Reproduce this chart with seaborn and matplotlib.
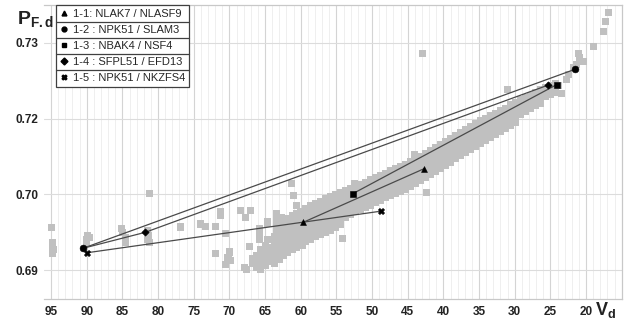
import matplotlib
matplotlib.use("Agg")
import matplotlib.pyplot as plt
from matplotlib.lines import Line2D
import seaborn as sns
import pandas as pd

# glass map (gray squares)
glass_vd = [
    # left outliers
    95.0, 94.8, 94.8, 94.7, 94.8,
    89.9, 90.0, 90.1, 89.6,
    85.1, 85.0, 84.6, 84.6,
    81.5, 81.3, 81.5, 81.2, 81.2,
    76.8, 74.1, 73.4, 71.9, 71.2, 71.2, 70.6,
    71.9, 70.2, 69.8, 70.5, 70.0,
    68.4, 67.0, 67.7, 67.2, 67.9, 67.6,
    61.3, 61.0, 64.6, 63.4, 62.7,
    # band
    66.8, 66.8,
    66.2, 66.2, 66.2,
    65.6, 65.6, 65.6, 65.6,
    65.8, 65.8, 65.8,
    65.0, 65.0, 65.0, 65.0,
    64.6, 64.6,
    64.3, 64.3, 64.3,
    63.7, 63.7, 63.7, 63.7, 63.7,
    63.4, 63.4, 63.4, 63.4,
    63.0, 63.0, 63.0, 63.0, 63.0,
    62.4, 62.4, 62.4, 62.4, 62.4, 62.4,
    61.8, 61.8, 61.8, 61.8, 61.8, 61.8,
    61.1, 61.1, 61.1, 61.1, 61.1, 61.1,
    60.6, 60.6, 60.6, 60.6, 60.6, 60.6, 60.6,
    60.0, 60.0, 60.0, 60.0, 60.0, 60.0,
    59.7,
    59.3, 59.3, 59.3, 59.3, 59.3, 59.3,
    58.6, 58.6, 58.6, 58.6, 58.6, 58.6,
    57.9, 57.9, 57.9, 57.9, 57.9, 57.9,
    57.2, 57.2, 57.2, 57.2, 57.2, 57.2,
    56.5, 56.5, 56.5, 56.5, 56.5, 56.5,
    55.8, 55.8, 55.8, 55.8, 55.8, 55.8,
    55.1, 55.1, 55.1, 55.1, 55.1, 55.1,
    54.1,
    54.4, 54.4, 54.4, 54.4, 54.4, 54.4,
    53.7, 53.7, 53.7, 53.7, 53.7,
    53.0, 53.0, 53.0, 53.0, 53.0,
    52.5,
    52.3, 52.3, 52.3, 52.3, 52.3,
    51.6, 51.6, 51.6, 51.6, 51.6,
    50.9, 50.9, 50.9, 50.9, 50.9,
    50.2, 50.2, 50.2, 50.2, 50.2,
    49.5, 49.5, 49.5, 49.5, 49.5,
    48.8, 48.8, 48.8, 48.8, 48.8,
    48.1, 48.1, 48.1, 48.1, 48.1,
    47.4, 47.4, 47.4, 47.4, 47.4,
    46.7, 46.7, 46.7, 46.7, 46.7,
    46.0, 46.0, 46.0, 46.0, 46.0,
    45.3, 45.3, 45.3, 45.3, 45.3,
    44.6, 44.6, 44.6, 44.6, 44.6,
    44.0,
    43.9, 43.9, 43.9, 43.9, 43.9,
    43.2, 43.2, 43.2, 43.2, 43.2,
    42.9, 42.4,
    42.5, 42.5, 42.5, 42.5, 42.5,
    41.8, 41.8, 41.8, 41.8, 41.8,
    41.1, 41.1, 41.1, 41.1, 41.1,
    40.4, 40.4, 40.4, 40.4, 40.4,
    39.7, 39.7, 39.7, 39.7, 39.7,
    39.0, 39.0, 39.0, 39.0, 39.0,
    38.3, 38.3, 38.3, 38.3, 38.3,
    37.6, 37.6, 37.6, 37.6, 37.6,
    36.9, 36.9, 36.9, 36.9, 36.9,
    36.2, 36.2, 36.2, 36.2, 36.2,
    35.5, 35.5, 35.5, 35.5, 35.5,
    34.8, 34.8, 34.8, 34.8, 34.8,
    34.1, 34.1, 34.1, 34.1, 34.1,
    33.4, 33.4, 33.4, 33.4, 33.4,
    32.7, 32.7, 32.7, 32.7, 32.7,
    32.0, 32.0, 32.0, 32.0, 32.0,
    31.0,
    31.3, 31.3, 31.3, 31.3, 31.3,
    30.6, 30.6, 30.6, 30.6, 30.6,
    29.9, 29.9, 29.9, 29.9, 29.9,
    29.2, 29.2, 29.2, 29.2,
    28.5, 28.5, 28.5, 28.5,
    27.8, 27.8, 27.8, 27.8,
    27.1, 27.1, 27.1, 27.1,
    26.4, 26.4, 26.4, 26.4,
    25.7, 25.7, 25.7,
    25.0, 25.0, 25.0,
    24.3, 24.3, 24.3,
    23.5, 23.9,
    22.5, 22.8,
    21.4, 21.1, 20.4, 21.8, 20.9,
    # top right tail
    18.9, 17.6, 17.3, 16.8,
]
glass_pfd = [
    0.6956, 0.6937, 0.6932, 0.6927, 0.6922,
    0.6946, 0.6940, 0.6935, 0.6943,
    0.6955, 0.6950, 0.6943, 0.6937,
    0.6952, 0.6946, 0.6940, 0.6937, 0.7001,
    0.6957, 0.6961, 0.6958, 0.6958, 0.6978, 0.6972, 0.6948,
    0.6922, 0.6917, 0.6913, 0.6907, 0.6924,
    0.6979, 0.6979, 0.6969, 0.6931, 0.6903, 0.6901,
    0.7015, 0.6999, 0.6964, 0.6969, 0.6970,
    0.6916, 0.6909,
    0.6920, 0.6912, 0.6903,
    0.6927, 0.6918, 0.6910, 0.6901,
    0.6955, 0.6947, 0.6940,
    0.6933, 0.6924, 0.6915, 0.6906,
    0.6962, 0.6940,
    0.6930, 0.6921, 0.6912,
    0.6945, 0.6936, 0.6927, 0.6918, 0.6909,
    0.6975, 0.6968, 0.6962, 0.6953,
    0.6950, 0.6941, 0.6932, 0.6923, 0.6914,
    0.6965, 0.6956, 0.6947, 0.6938, 0.6929, 0.6920,
    0.6968, 0.6959, 0.6950, 0.6941, 0.6932, 0.6923,
    0.6972, 0.6963, 0.6954, 0.6945, 0.6936, 0.6927,
    0.6986, 0.6975, 0.6966, 0.6957, 0.6948, 0.6939, 0.6930,
    0.6978, 0.6970, 0.6961, 0.6952, 0.6943, 0.6934,
    0.6933,
    0.6982, 0.6973, 0.6964, 0.6955, 0.6946, 0.6938,
    0.6985, 0.6976, 0.6967, 0.6958, 0.6949, 0.6941,
    0.6988, 0.6979, 0.6970, 0.6961, 0.6952, 0.6944,
    0.6991, 0.6982, 0.6973, 0.6964, 0.6955, 0.6947,
    0.6994, 0.6985, 0.6976, 0.6967, 0.6958, 0.6950,
    0.6997, 0.6988, 0.6979, 0.6970, 0.6961, 0.6953,
    0.7000, 0.6991, 0.6982, 0.6973, 0.6964, 0.6957,
    0.6942,
    0.7003, 0.6994, 0.6985, 0.6976, 0.6967, 0.6960,
    0.7005, 0.6996, 0.6988, 0.6979, 0.6970,
    0.7008, 0.6999, 0.6991, 0.6982, 0.6973,
    0.7015,
    0.7010, 0.7002, 0.6994, 0.6985, 0.6977,
    0.7013, 0.7005, 0.6997, 0.6988, 0.6980,
    0.7016, 0.7008, 0.7000, 0.6991, 0.6983,
    0.7019, 0.7011, 0.7003, 0.6994, 0.6986,
    0.7022, 0.7014, 0.7006, 0.6997, 0.6989,
    0.7025, 0.7017, 0.7009, 0.7000, 0.6992,
    0.7028, 0.7020, 0.7012, 0.7003, 0.6996,
    0.7031, 0.7023, 0.7015, 0.7006, 0.6999,
    0.7034, 0.7026, 0.7018, 0.7009, 0.7001,
    0.7037, 0.7029, 0.7021, 0.7012, 0.7004,
    0.7040, 0.7032, 0.7024, 0.7016, 0.7007,
    0.7044, 0.7036, 0.7028, 0.7020, 0.7011,
    0.7052,
    0.7047, 0.7039, 0.7031, 0.7023, 0.7015,
    0.7050, 0.7042, 0.7034, 0.7026, 0.7018,
    0.7186, 0.7002,
    0.7054, 0.7046, 0.7038, 0.7030, 0.7022,
    0.7058, 0.7050, 0.7042, 0.7034, 0.7026,
    0.7062, 0.7054, 0.7046, 0.7038, 0.7030,
    0.7066, 0.7058, 0.7050, 0.7042, 0.7034,
    0.7070, 0.7062, 0.7054, 0.7046, 0.7038,
    0.7074, 0.7066, 0.7058, 0.7050, 0.7042,
    0.7078, 0.7070, 0.7062, 0.7054, 0.7047,
    0.7082, 0.7074, 0.7066, 0.7058, 0.7051,
    0.7086, 0.7078, 0.7070, 0.7062, 0.7055,
    0.7089, 0.7081, 0.7073, 0.7066, 0.7059,
    0.7093, 0.7085, 0.7077, 0.7070, 0.7063,
    0.7097, 0.7089, 0.7081, 0.7074, 0.7067,
    0.7100, 0.7092, 0.7085, 0.7078, 0.7071,
    0.7104, 0.7096, 0.7089, 0.7082, 0.7075,
    0.7107, 0.7100, 0.7093, 0.7086, 0.7079,
    0.7111, 0.7104, 0.7097, 0.7090, 0.7083,
    0.7138,
    0.7114, 0.7107, 0.7100, 0.7093, 0.7087,
    0.7118, 0.7111, 0.7104, 0.7097, 0.7091,
    0.7121, 0.7114, 0.7108, 0.7101, 0.7095,
    0.7125, 0.7118, 0.7111, 0.7105,
    0.7128, 0.7121, 0.7115, 0.7109,
    0.7131, 0.7125, 0.7119, 0.7113,
    0.7135, 0.7129, 0.7123, 0.7117,
    0.7138, 0.7132, 0.7126, 0.7120,
    0.7141, 0.7135, 0.7129,
    0.7144, 0.7138, 0.7132,
    0.7147, 0.7141, 0.7135,
    0.7133, 0.7144,
    0.7158, 0.7152,
    0.7171, 0.7186, 0.7175, 0.7168, 0.7180,
    0.7195, 0.7215, 0.7228, 0.7240,
]

# glass pairs (first glass, second glass)
pair_labels = ["1-1: NLAK7 / NLASF9", "1-2 : NPK51 / SLAM3", "1-3 : NBAK4 / NSF4",
               "1-4 : SFPL51 / EFD13", "1-5 : NPK51 / NKZFS4"]
pair_markers = ["^", "o", "s", "D", "X"]
pair_vd = [[59.7, 42.7], [90.5, 21.6], [52.7, 24.1], [81.8, 25.4], [90.0, 48.7]]
pair_pfd = [[0.6963, 0.7034], [0.6929, 0.7165], [0.7001, 0.7145], [0.6950, 0.7144], [0.6923, 0.6978]]
# the 1-4 line in the original starts back at the NPK51 point
line14_vd = [90.5, 81.8, 25.4]
line14_pfd = [0.6929, 0.6950, 0.7144]

# y grid positions and the labels printed on them
ytick_pos = [0.69, 0.70, 0.71, 0.72]
ytick_labels = ["0.69", "0.70", "0.72", "0.73"]
xtick_pos = [95, 90, 85, 80, 75, 70, 65, 60, 55, 50, 45, 40, 35, 30, 25, 20]

sns.set_style("white")
plt.rcParams["font.family"] = ["Liberation Sans", "DejaVu Sans"]
plt.rcParams["mathtext.fontset"] = "custom"
plt.rcParams["mathtext.bf"] = "Liberation Sans:bold"
plt.rcParams["mathtext.rm"] = "Liberation Sans"

fig = plt.figure(figsize=(6.28, 3.22), dpi=100)
ax = fig.add_axes([0.070, 0.0714, 0.920, 0.9131])

ax.set_xlim(96, 15)
ax.set_ylim(0.6862, 0.7250)

# grid
for v in range(16, 96):
    c = "#d4d4d4" if v % 5 == 0 else "#ececec"
    ax.axvline(v, color=c, lw=0.8 if v % 5 == 0 else 0.6, zorder=0)
for y in ytick_pos:
    ax.axhline(y, color="#dcdcdc", lw=0.8, zorder=0)

glass = pd.DataFrame({"vd": glass_vd, "pfd": glass_pfd})
sns.scatterplot(data=glass, x="vd", y="pfd", marker="s", s=26, color="#c0c0c0",
                edgecolor="none", linewidth=0, ax=ax, zorder=2)

for i in range(len(pair_labels)):
    if i == 3:
        lx, ly = line14_vd, line14_pfd
    else:
        lx, ly = pair_vd[i], pair_pfd[i]
    ax.plot(lx, ly, color="#4a4a4a", lw=0.9, zorder=3)

marker_size = {"^": 18, "o": 24, "s": 20, "D": 14, "X": 20}
for i in range(len(pair_labels)):
    sns.scatterplot(x=pair_vd[i], y=pair_pfd[i], marker=pair_markers[i],
                    s=marker_size[pair_markers[i]], color="black", edgecolor="black",
                    linewidth=0.4, ax=ax, zorder=4)

ax.set_xticks(xtick_pos)
ax.set_xticklabels([str(v) for v in xtick_pos])
ax.set_yticks(ytick_pos)
ax.set_yticklabels(ytick_labels)
ax.tick_params(axis="both", length=0, labelsize=8.5, colors="#222222")
ax.tick_params(axis="x", pad=5)
ax.tick_params(axis="y", pad=4)
for lab in ax.get_xticklabels() + ax.get_yticklabels():
    lab.set_fontweight("bold")
ax.set_xlabel("")
ax.set_ylabel("")

for side in ["top", "right", "bottom"]:
    ax.spines[side].set_color("#c8c8c8")
    ax.spines[side].set_linewidth(0.9)
ax.spines["left"].set_visible(False)

fig.text(0.027, 0.925, r"$\mathbf{P_{F.d}}$", fontsize=14, color="#222222")
fig.text(0.948, 0.022, r"$\mathbf{V_{d}}$", fontsize=13, color="#222222", ha="left")

handles = [Line2D([], [], marker=m, color="black", ls="none", markersize=3.5)
           for m in pair_markers]
leg = ax.legend(handles, pair_labels, loc="upper left", bbox_to_anchor=(0.021, 1.0),
                frameon=True, fancybox=False, edgecolor="#404040", framealpha=1,
                fontsize=8, borderpad=0.35, labelspacing=0.55, handlelength=0.8,
                handletextpad=0.35, borderaxespad=0)
leg.get_frame().set_linewidth(0.9)
leg.set_zorder(10)

# separators between legend rows, like the boxed rows of the original
fig.canvas.draw()
lb = leg.get_window_extent()
tb = [t.get_window_extent() for t in leg.get_texts()]
inv = fig.transFigure.inverted()
for a, b in zip(tb[:-1], tb[1:]):
    ymid = (a.y0 + b.y1) / 2
    p0 = inv.transform((lb.x0, ymid))
    p1 = inv.transform((lb.x1, ymid))
    fig.add_artist(Line2D([p0[0], p1[0]], [p0[1], p1[1]], color="#404040", lw=0.9, zorder=11))

fig.savefig("out.png", dpi=100)
